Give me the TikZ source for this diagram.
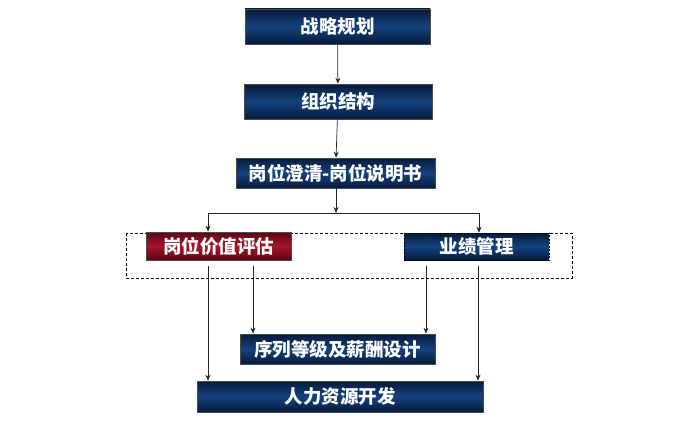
\documentclass[tikz,border=0pt]{standalone}
\usepackage{fontspec}
\newfontfamily\cjk{Noto Sans CJK SC}
\usetikzlibrary{arrows.meta}
\definecolor{navyedge}{HTML}{061A3C}
\definecolor{navymid}{HTML}{14427E}
\definecolor{rededge}{HTML}{5A0612}
\definecolor{redmid}{HTML}{A8142A}
\begin{document}
\begin{tikzpicture}[x=1pt, y=-1pt, >={Stealth[length=6pt,width=5pt]},
    box/.style={draw=gray!60!black, line width=0.6pt, text=white,
        font=\cjk\bfseries\fontsize{18.5}{20}\selectfont, inner sep=0pt,
        top color=navyedge, bottom color=navyedge, middle color=navymid},
    redbox/.style={box, top color=rededge, bottom color=rededge, middle color=redmid},
    link/.style={->, line width=0.7pt, draw=black!85}]
    \useasboundingbox (0,0) rectangle (700,428);

    % Boxes of the main chain
    \node[box, minimum width=185, minimum height=35] (plan) at (337.5, 26.5) {战略规划};
    \node[box, minimum width=188, minimum height=35] (org) at (338, 101.5) {组织结构};
    \node[box, minimum width=199, minimum height=30] (post) at (335.5, 173) {岗位澄清-岗位说明书};

    % Dashed frame round the two middle boxes
    \draw[line width=1pt, dash pattern=on 3pt off 2pt] (126,233) rectangle (572,278);
    \node[redbox, minimum width=145, minimum height=28] (eval) at (218.5, 246) {岗位价值评估};
    \node[box, draw=black, dash pattern=on 2pt off 1.5pt, minimum width=145, minimum height=27] (perf) at (476.5, 246.5) {业绩管理};

    % Boxes at the bottom
    \node[box, minimum width=195, minimum height=30] (pay) at (337.5, 349) {序列等级及薪酬设计};
    \node[box, minimum width=286, minimum height=31] (hrd) at (340, 396.5) {人力资源开发};

    % Connectors
    \coordinate (split) at (336, 213);
    \draw[link] (plan) -- (org);
    \draw[link] (org) -- (post);
    \draw[link] (post.south -| split) -- (split);
    \draw[link] (split) -| ([xshift=-10.5pt]eval.north);
    \draw[link] (split) -| ([xshift=2.5pt]perf.north);

    \coordinate (e1) at ([xshift=-10.5pt, yshift=-6pt]eval.south);
    \coordinate (e2) at ([xshift=34.5pt, yshift=-6pt]eval.south);
    \coordinate (p1) at ([xshift=-50.5pt, yshift=-6pt]perf.south);
    \coordinate (p2) at ([xshift=1.5pt, yshift=-6pt]perf.south);
    \draw[link] (e1) -- (e1 |- hrd.north);
    \draw[link] (e2) -- (e2 |- pay.north);
    \draw[link] (p1) -- (p1 |- pay.north);
    \draw[link] (p2) -- (p2 |- hrd.north);
\end{tikzpicture}
\end{document}
